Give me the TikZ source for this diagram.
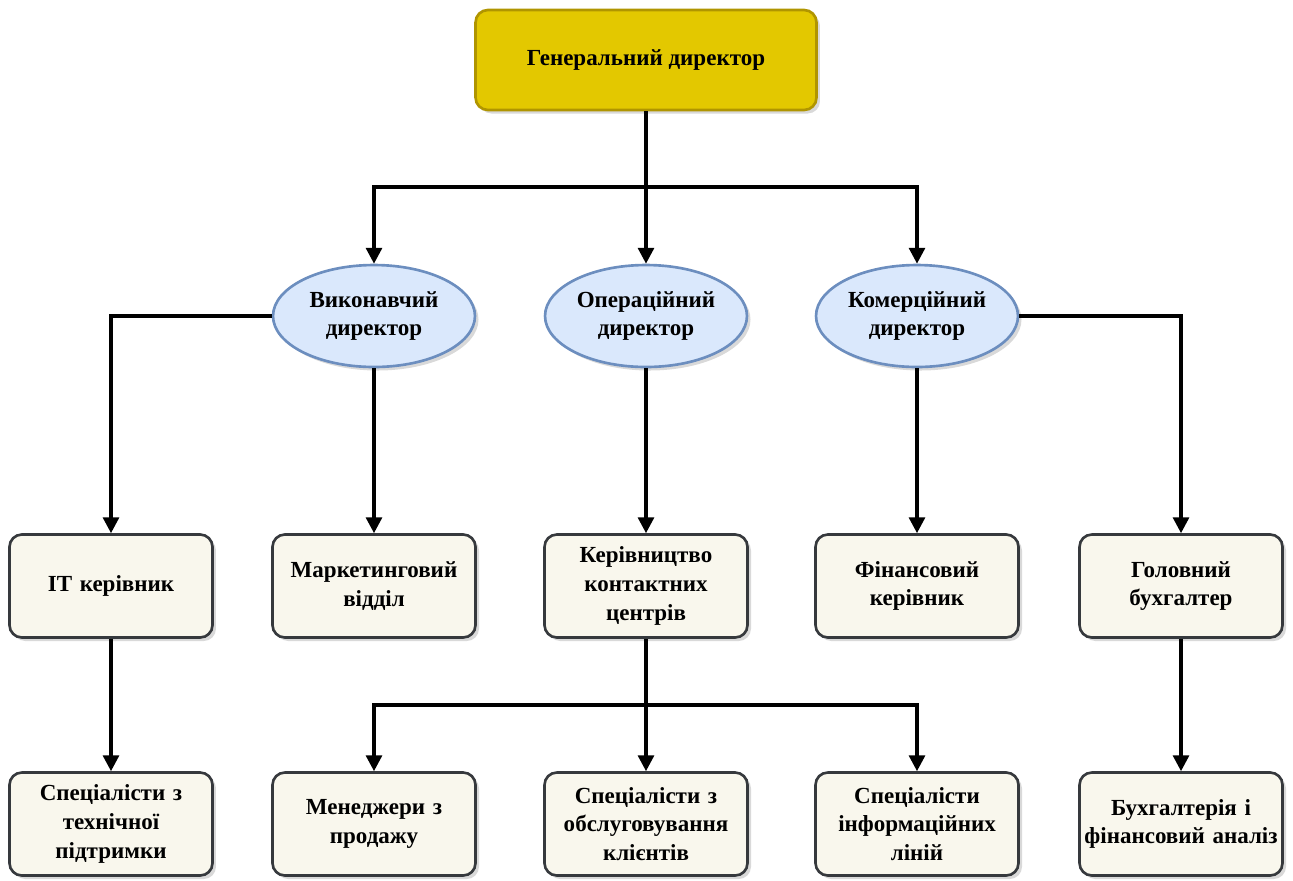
\documentclass[tikz,border=0pt]{standalone}
\usepackage{fontspec}
\setmainfont{Liberation Serif}
\usetikzlibrary{arrows.meta,shapes.geometric,shadows}

\definecolor{gold}{HTML}{E3C800}
\definecolor{goldline}{HTML}{B09500}
\definecolor{bluefill}{HTML}{DAE8FC}
\definecolor{blueline}{HTML}{6C8EBF}
\definecolor{boxfill}{HTML}{F9F7ED}
\definecolor{boxline}{HTML}{36393D}

\tikzset{
  chief/.style={draw=goldline,fill=gold,line width=1.5pt,rounded corners=7pt,
    minimum width=6.82cm,minimum height=2cm,align=center,
    drop shadow={shadow xshift=2pt,shadow yshift=-2pt,opacity=0.3}},
  director/.style={ellipse,draw=blueline,fill=bluefill,line width=1.5pt,
    minimum width=4.04cm,minimum height=2.04cm,inner sep=0pt,align=center,
    drop shadow={shadow xshift=2pt,shadow yshift=-2pt,opacity=0.3}},
  unit/.style={draw=boxline,fill=boxfill,line width=1.5pt,rounded corners=7pt,
    minimum width=4.06cm,minimum height=2.06cm,inner xsep=0pt,text width=4.06cm,
    align=center,
    drop shadow={shadow xshift=2pt,shadow yshift=-2pt,opacity=0.3}},
  link/.style={line width=1.9pt,-{Triangle[width=9pt,length=9pt]}},
  wire/.style={line width=1.9pt}
}

\begin{document}
\begin{tikzpicture}[x=0.02cm,y=-0.02cm,font=\fontsize{13.1}{16.4}\selectfont\bfseries]
\useasboundingbox (0,0) rectangle (1293,880);

% top level
\node[chief] (gen) at (646,60) {Генеральний директор};

% directors
\node[director] (vyk) at (374,316) {Виконавчий\\директор};
\node[director] (oper) at (646,316) {Операційний\\директор};
\node[director] (kom) at (917,316) {Комерційний\\директор};

% departments
\node[unit] (it) at (111,586) {IT керівник};
\node[unit] (mark) at (374,586) {Маркетинговий\\відділ};
\node[unit] (kc) at (646,586) {Керівництво\\контактних\\центрів};
\node[unit] (fin) at (917,586) {Фінансовий\\керівник};
\node[unit] (buh) at (1181,586) {Головний\\бухгалтер};

% staff
\node[unit] (tech) at (111,824) {Спеціалісти з\\технічної\\підтримки};
\node[unit] (sales) at (374,824) {Менеджери з\\продажу};
\node[unit] (serv) at (646,824) {Спеціалісти з\\обслуговування\\клієнтів};
\node[unit] (info) at (917,824) {Спеціалісти\\інформаційних\\ліній};
\node[unit] (anal) at (1181,824) {Бухгалтерія і\\фінансовий аналіз};

\coordinate (top split) at (646,187);
\coordinate (kc split) at (646,705);

\draw[wire] (gen) -- (top split);
\draw[link] (top split) -| (vyk.north);
\draw[link] (top split) -- (oper.north);
\draw[link] (top split) -| (kom.north);

\draw[link] (vyk.west) -| (it.north);
\draw[link] (vyk.south) -- (mark.north);
\draw[link] (oper.south) -- (kc.north);
\draw[link] (kom.south) -- (fin.north);
\draw[link] (kom.east) -| (buh.north);

\draw[link] (it.south) -- (tech.north);
\draw[wire] (kc.south) -- (kc split);
\draw[link] (kc split) -| (sales.north);
\draw[link] (kc split) -- (serv.north);
\draw[link] (kc split) -| (info.north);
\draw[link] (buh.south) -- (anal.north);

\end{tikzpicture}
\end{document}
